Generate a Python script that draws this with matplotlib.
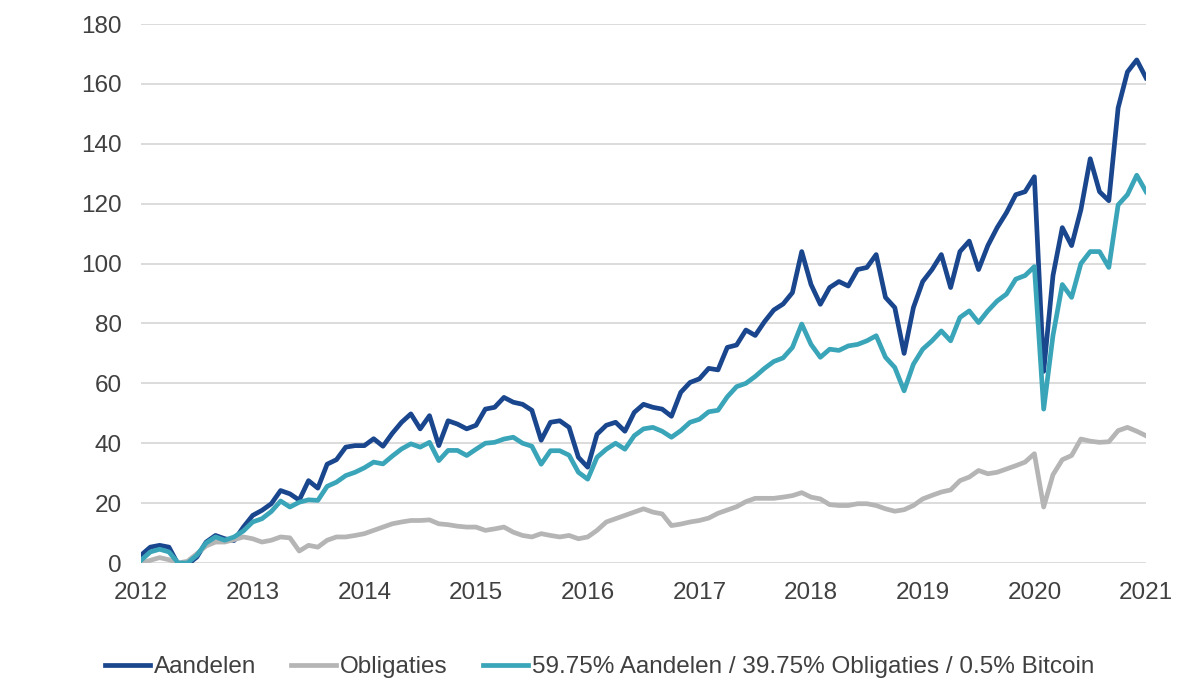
import numpy as np
import matplotlib
matplotlib.use("Agg")
import matplotlib.pyplot as plt

# monthly readings, Jan 2012 .. Jan 2021 (109 points)
aandelen = [
    2.6, 5.3, 5.9, 5.3, -0.5, -0.5, 2.0, 7.0, 9.2, 8.1, 7.5, 12.0,
    15.9, 17.6, 19.8, 24.2, 23.1, 21.0, 27.5, 25.0, 33.0, 34.5, 38.7, 39.2,
    39.2, 41.5, 39.0, 43.3, 47.0, 49.8, 44.8, 49.2, 39.2, 47.5, 46.4, 44.8,
    46.0, 51.4, 52.0, 55.3, 53.7, 53.0, 51.0, 41.0, 47.0, 47.5, 45.3, 35.3,
    32.0, 43.0, 46.0, 47.0, 44.0, 50.3, 53.0, 52.0, 51.4, 49.0, 57.0, 60.3,
    61.5, 65.0, 64.5, 72.0, 72.8, 77.8, 76.0, 80.6, 84.5, 86.5, 90.3, 104.0,
    93.0, 86.4, 92.0, 94.0, 92.5, 98.0, 98.7, 103.0, 88.7, 85.3, 70.0, 85.3,
    94.0, 98.0, 103.0, 92.0, 104.0, 107.5, 98.0, 106.0, 112.0, 117.0, 123.0, 124.0,
    129.0, 64.0, 96.0, 112.0, 106.0, 118.0, 135.0, 124.0, 121.0, 152.0, 164.0, 168.0,
    162.0,
]
obligaties = [
    0.0, 0.9, 1.8, 1.1, 0.0, 0.6, 3.1, 5.7, 7.0, 7.0, 7.8, 8.7,
    8.1, 7.0, 7.6, 8.7, 8.4, 4.0, 5.9, 5.3, 7.6, 8.7, 8.7, 9.2,
    9.8, 10.9, 12.0, 13.1, 13.7, 14.2, 14.2, 14.4, 13.1, 12.8, 12.3, 12.0,
    12.0, 10.9, 11.4, 12.0, 10.3, 9.2, 8.7, 9.8, 9.2, 8.7, 9.2, 8.1,
    8.7, 10.9, 13.7, 14.8, 15.9, 17.0, 18.1, 17.0, 16.4, 12.5, 13.0, 13.7,
    14.2, 15.0, 16.6, 17.7, 18.8, 20.5, 21.6, 21.6, 21.6, 22.0, 22.5, 23.5,
    22.0, 21.4, 19.5, 19.2, 19.2, 19.8, 19.8, 19.2, 18.1, 17.3, 17.8, 19.2,
    21.4, 22.6, 23.7, 24.4, 27.5, 28.7, 30.9, 29.8, 30.3, 31.4, 32.5, 33.7,
    36.5, 18.7, 29.5, 34.5, 35.9, 41.4, 40.7, 40.3, 40.5, 44.2, 45.3, 44.0,
    42.5,
]
mix = [
    0.9, 3.7, 4.6, 3.7, 0.0, 0.0, 2.6, 6.7, 8.7, 7.6, 8.7, 10.7,
    13.7, 14.8, 17.2, 20.7, 18.7, 20.3, 21.1, 20.9, 25.6, 27.0, 29.2, 30.3,
    31.8, 33.7, 33.1, 35.7, 38.1, 39.8, 38.7, 40.3, 34.2, 37.6, 37.6, 35.9,
    38.0, 40.0, 40.3, 41.4, 42.0, 40.0, 39.0, 33.0, 37.5, 37.5, 36.0, 30.3,
    28.0, 35.3, 38.0, 40.0, 38.0, 42.5, 44.8, 45.3, 44.0, 42.0, 44.2, 47.0,
    48.0, 50.5, 51.0, 55.5, 58.9, 60.0, 62.3, 65.0, 67.3, 68.5, 72.0, 79.8,
    73.0, 68.7, 71.4, 71.0, 72.5, 73.0, 74.2, 75.9, 68.7, 65.3, 57.5, 66.4,
    71.4, 74.2, 77.5, 74.2, 82.0, 84.2, 80.3, 84.2, 87.5, 89.8, 94.8, 96.0,
    99.0, 51.4, 76.0, 93.0, 88.7, 100.0, 104.0, 104.0, 98.7, 119.6, 123.0, 129.5,
    124.0,
]
labels = ["Aandelen", "Obligaties", "59.75% Aandelen / 39.75% Obligaties / 0.5% Bitcoin"]
colors = ["#1a468e", "#b5b5b5", "#3aa5b9"]
year_ticks = list(range(2012, 2022))
y_ticks = list(range(0, 181, 20))

plt.rcParams["font.family"] = ["Liberation Sans", "DejaVu Sans"]

t = 2012 + np.arange(len(aandelen)) / 12

fig = plt.figure(figsize=(11.87, 7.0), dpi=100)
ax = fig.add_axes([0.1188, 0.1957, 0.8467, 0.77])

for vals, lab, col in zip([aandelen, obligaties, mix], labels, colors):
    ax.plot(t, vals, color=col, lw=3.4, label=lab, solid_joinstyle="round")

ax.set_xlim(2012, 2021)
ax.set_ylim(0, 180)
ax.set_xticks(year_ticks)
ax.set_yticks(y_ticks)
ax.tick_params(length=0, labelsize=17.5, colors="#404040")
ax.tick_params(axis="y", pad=14)
ax.tick_params(axis="x", pad=14)
ax.grid(axis="y", color="#d9d9d9", lw=1.3)
ax.set_axisbelow(True)
for s in ax.spines.values():
    s.set_visible(False)

fig.legend(loc="center", bbox_to_anchor=(0.505, 0.047), ncol=3, frameon=False,
           fontsize=17.5, handlelength=1.85, handletextpad=0.16, columnspacing=1.45,
           labelcolor="#404040")

fig.savefig("out.png", dpi=100)
